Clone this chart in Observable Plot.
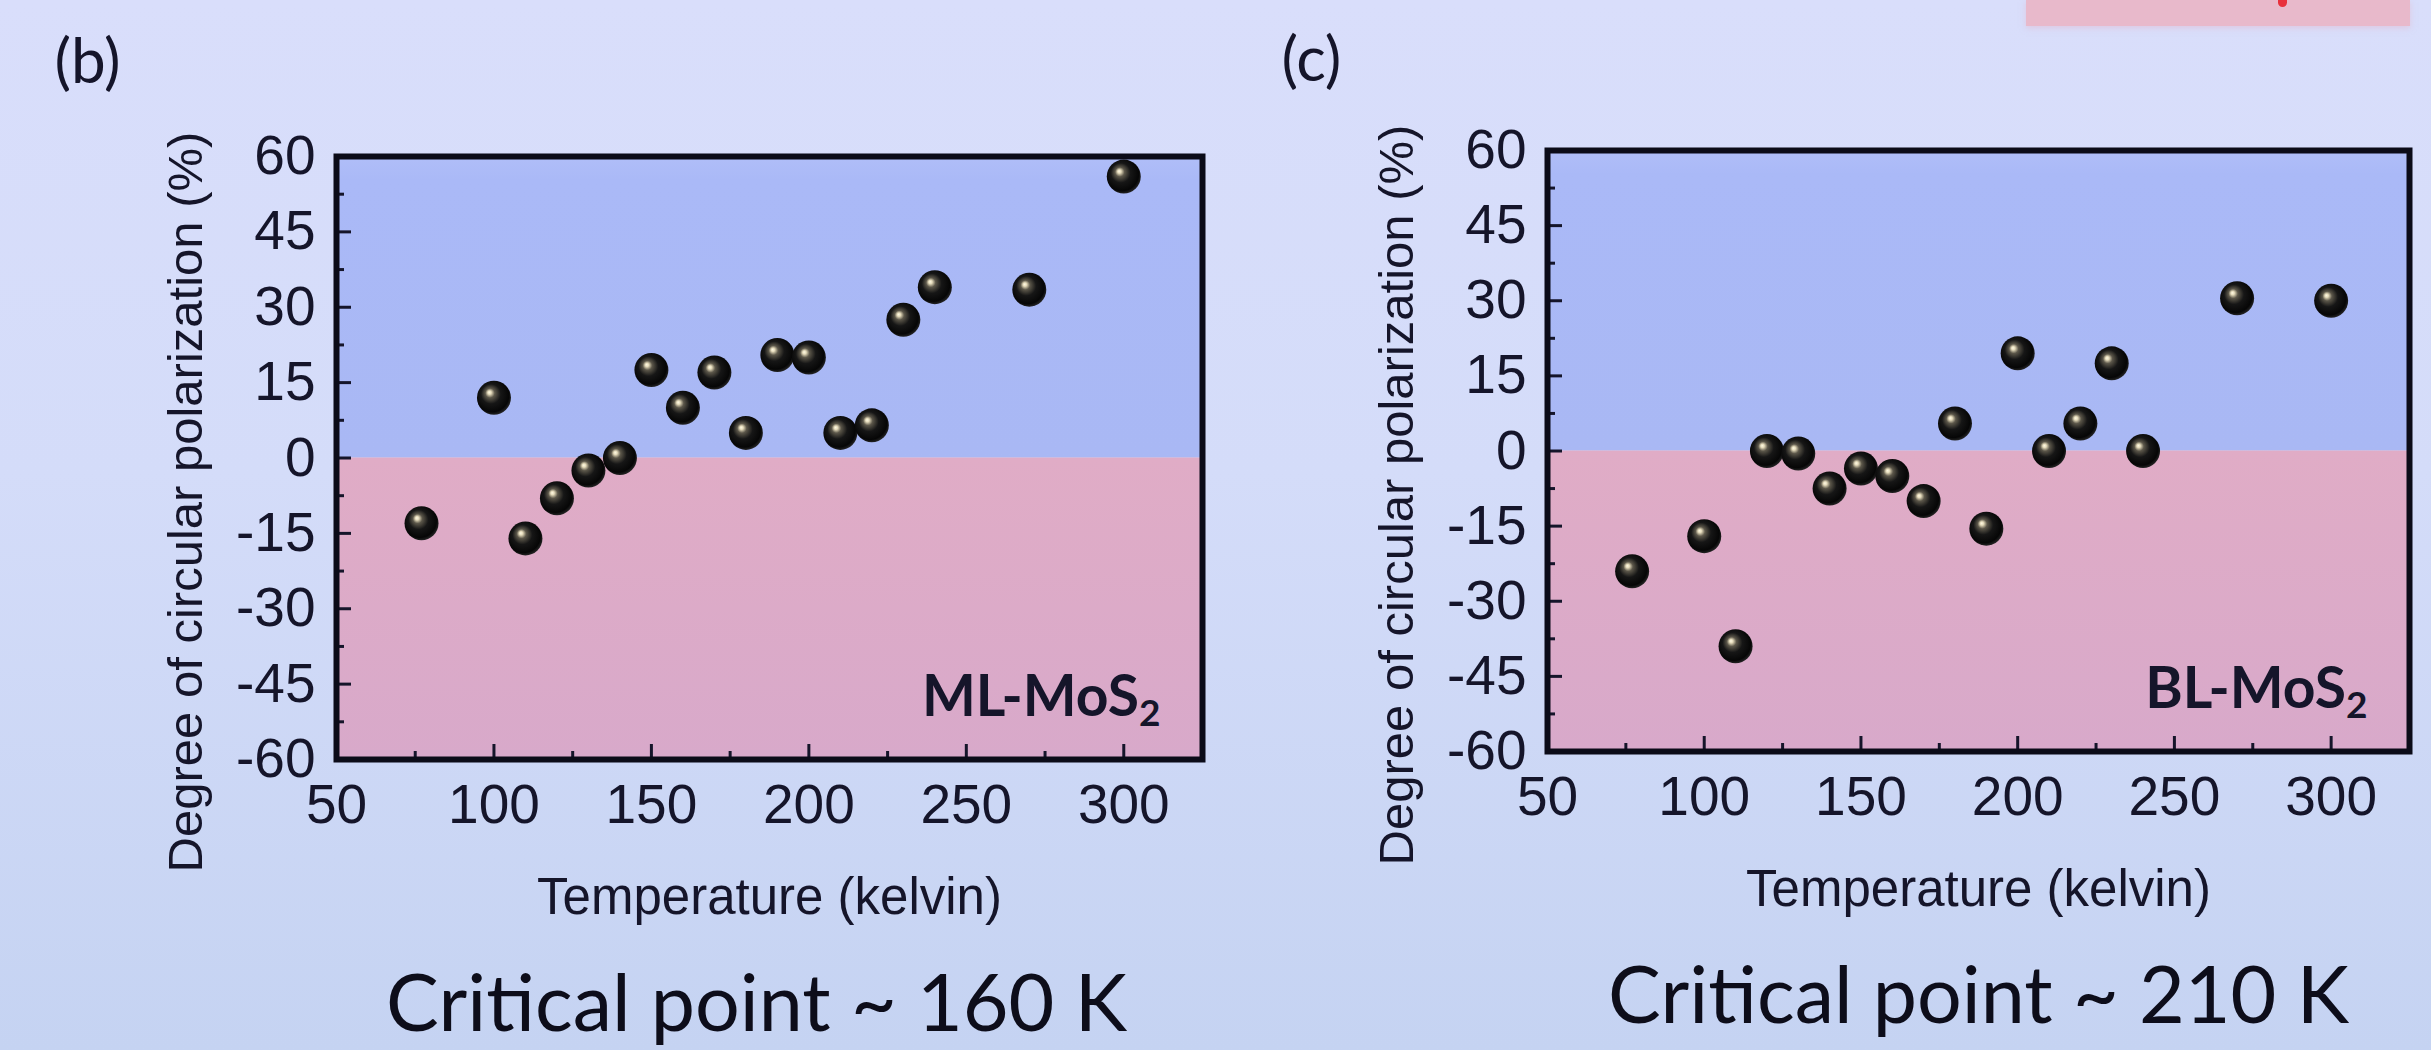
<!DOCTYPE html>
<html><head><meta charset="utf-8">
<script src="https://cdn.jsdelivr.net/npm/d3@7"></script>
<script src="https://cdn.jsdelivr.net/npm/@observablehq/plot@0.6"></script>
<style>
body{margin:0;}
#page{position:relative;width:2431px;height:1050px;overflow:hidden;
  background:linear-gradient(180deg,#d9defb 0%,#d4dcf9 45%,#c5d3f2 100%);}
.panel{position:absolute;top:0;}
#tag{position:absolute;left:2026px;top:0;width:384px;height:26px;background:#e8b9cb;box-shadow:0 2px 6px rgba(230,180,200,0.5);}
#tagdot{position:absolute;left:2278px;top:0;width:9px;height:7px;background:#e8303c;border-radius:0 0 5px 5px;}
</style></head><body>
<svg width="0" height="0" style="position:absolute">
  <defs>
    <radialGradient id="sphere" cx="0.46" cy="0.44" r="0.58" fx="0.36" fy="0.34">
      <stop offset="0" stop-color="#fffbe6"/>
      <stop offset="0.09" stop-color="#e6dcbc"/>
      <stop offset="0.24" stop-color="#5c574a"/>
      <stop offset="0.5" stop-color="#161616"/>
      <stop offset="0.85" stop-color="#060606"/>
      <stop offset="1" stop-color="#2a2a2a"/>
    </radialGradient>
    <linearGradient id="blueBand" x1="0" y1="0" x2="0" y2="1">
      <stop offset="0" stop-color="#b0bef8"/>
      <stop offset="0.08" stop-color="#aab9f7"/>
      <stop offset="1" stop-color="#a9b8f4"/>
    </linearGradient>
    <linearGradient id="pinkBand" x1="0" y1="0" x2="0" y2="1">
      <stop offset="0" stop-color="#e0acc6"/>
      <stop offset="1" stop-color="#d8a9ca"/>
    </linearGradient>
  </defs>
</svg>
<div id="page">
  <div id="tag"></div><div id="tagdot"></div>
</div>
<script>
// ---- data ----
const temperatures = [77, 100, 110, 120, 130, 140, 150, 160, 170, 180, 190, 200, 210, 220, 230, 240, 270, 300];
const mlPolarization = [-13, 12, -16, -8, -2.5, 0, 17.5, 10, 17, 5, 20.5, 20, 5, 6.5, 27.5, 34, 33.5, 56];
const blPolarization = [-24, -17, -39, 0, -0.5, -7.5, -3.5, -5, -10, 5.5, -15.5, 19.5, 0, 5.5, 17.5, 0, 30.5, 30];
const xDomain = [50, 325];
const yDomain = [-60, 60];
const xTicks = [50, 100, 150, 200, 250, 300];
const xMinorTicks = [75, 125, 175, 225, 275, 325];
const yTicks = [-60, -45, -30, -15, 0, 15, 30, 45, 60];
const yMinorTicks = [-52.5, -37.5, -22.5, -7.5, 7.5, 22.5, 37.5, 52.5];
const bands = [{name: "positive", from: 0, to: 60}, {name: "negative", from: -60, to: 0}];
const xTitle = "Temperature (kelvin)";
const yTitle = "Degree of circular polarization (%)";

const panels = [
  {letter: "(b)", sample: "ML-MoS", values: mlPolarization, caption: "Critical point ~ 160 K",
   left: 0, width: 1215, mL: 336, mR: 13, mT: 156, mB: 291, sampleDx: -20, letterDx: -282, letterDy: -118, capDx: -13},
  {letter: "(c)", sample: "BL-MoS", values: blPolarization, caption: "Critical point ~ 210 K",
   left: 1215, width: 1216, mL: 332, mR: 22, mT: 150, mB: 299, sampleDx: -20, letterDx: -266, letterDy: -114, capDx: 0}
];

const ink = "#15152a";
const page = document.getElementById("page");

for (const p of panels) {
  const height = 1050;
  const frameW = p.width - p.mL - p.mR;
  const frameH = height - p.mT - p.mB;
  const data = temperatures.map((t, i) => ({t, v: p.values[i]}));
  const chart = Plot.plot({
    width: p.width, height,
    marginLeft: p.mL, marginRight: p.mR, marginTop: p.mT, marginBottom: p.mB,
    x: {domain: xDomain},
    y: {domain: yDomain},
    style: {background: "transparent", fontFamily: "'Liberation Sans', Arial, sans-serif", color: ink, overflow: "visible"},
    marks: [
      Plot.rect(bands.filter(b => b.name === "positive"), {x1: () => xDomain[0], x2: () => xDomain[1], y1: "from", y2: "to", fill: "url(#blueBand)"}),
      Plot.rect(bands.filter(b => b.name === "negative"), {x1: () => xDomain[0], x2: () => xDomain[1], y1: "from", y2: "to", fill: "url(#pinkBand)"}),
      Plot.tickX(xTicks, {x: d => d, insetTop: frameH - 15, stroke: ink, strokeWidth: 3}),
      Plot.tickX(xMinorTicks, {x: d => d, insetTop: frameH - 8, stroke: ink, strokeWidth: 3}),
      Plot.tickY(yTicks, {y: d => d, insetRight: frameW - 15, stroke: ink, strokeWidth: 3}),
      Plot.tickY(yMinorTicks, {y: d => d, insetRight: frameW - 8, stroke: ink, strokeWidth: 3}),
      Plot.axisX({ticks: xTicks, tickSize: 0, tickPadding: 24, fontSize: 55, label: null, tickFormat: d => String(d)}),
      Plot.axisY({ticks: yTicks, tickSize: 0, tickPadding: 21, fontSize: 55, label: null, tickFormat: d => String(d)}),
      Plot.frame({stroke: "#0b0b18", strokeWidth: 6}),
      Plot.dot(data, {x: "t", y: "v", r: 17, fill: "url(#sphere)", stroke: "none"}),
      Plot.text([p.sample], {frameAnchor: "bottom-right", textAnchor: "end", dx: p.sampleDx - 22, dy: -44,
        fontFamily: "Lato, 'Open Sans', sans-serif", fontWeight: "bold", fontSize: 57, fill: ink}),
      Plot.text([yTitle], {frameAnchor: "left", textAnchor: "middle", rotate: -90, dx: -150, dy: 44, fontSize: 49, fill: ink}),
      Plot.text([xTitle], {frameAnchor: "bottom", dy: 154, fontSize: 51, fill: ink}),
      Plot.text([p.caption], {frameAnchor: "bottom", dx: p.capDx, dy: 271, fontSize: 79, fill: "#0d0d1a",
        fontFamily: "Lato, 'Open Sans', sans-serif"}),
      Plot.text([p.letter], {frameAnchor: "top-left", textAnchor: "start", lineAnchor: "top", dx: p.letterDx, dy: p.letterDy, fontSize: 62, fill: ink,
        fontFamily: "Lato, 'Open Sans', sans-serif"})
    ]
  });
  chart.classList.add("panel");
  chart.style.left = p.left + "px";
  page.appendChild(chart);
  // subscript 2 on the sample label
  chart.querySelectorAll("text").forEach(t => {
    if (t.textContent === p.sample) {
      const ts = document.createElementNS("http://www.w3.org/2000/svg", "tspan");
      ts.setAttribute("dy", "0.28em");
      ts.setAttribute("font-size", "37");
      ts.textContent = "2";
      t.appendChild(ts);
    }
  });
}
</script>
</body></html>
